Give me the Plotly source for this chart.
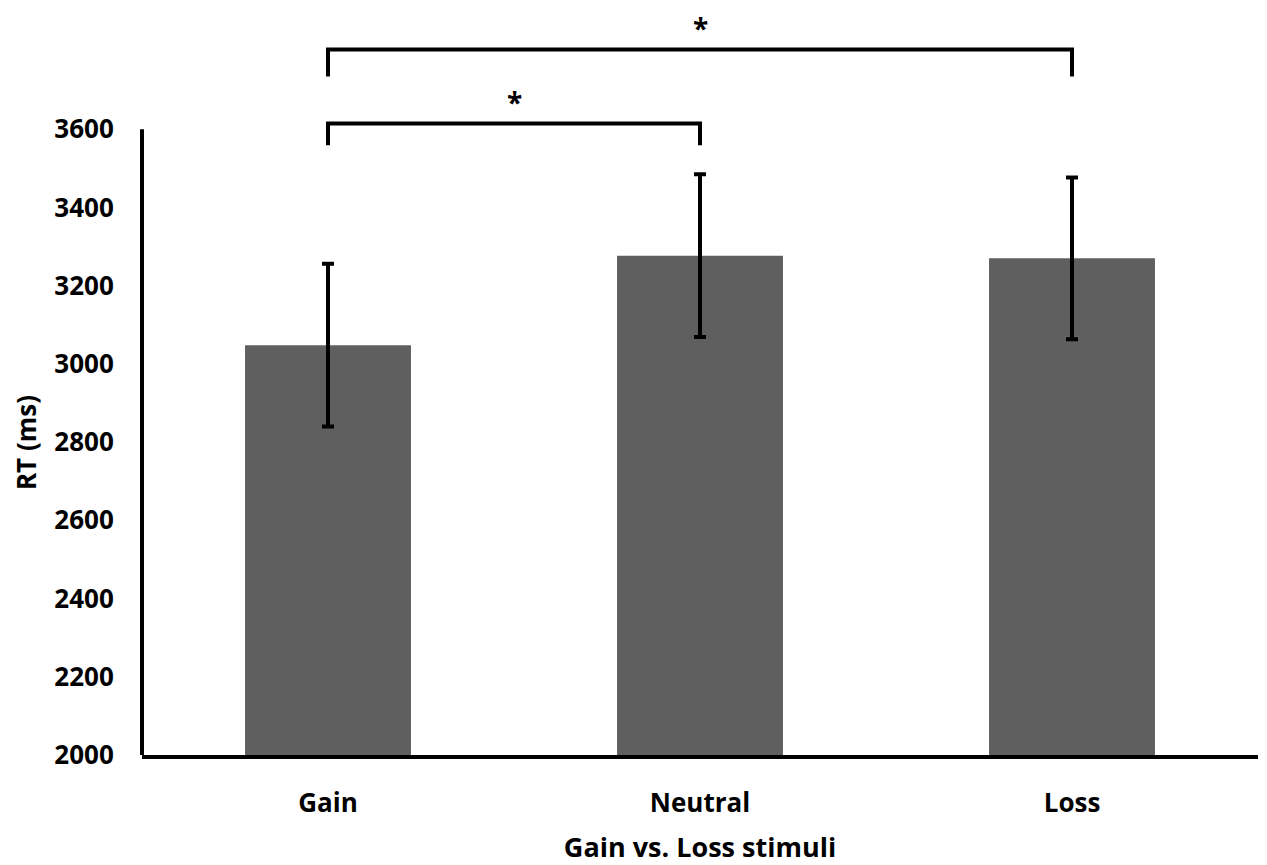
import plotly.graph_objects as go

categories = ["Gain", "Neutral", "Loss"]
rt_means = [3048, 3277, 3270]
rt_errors = [208, 208, 207]
y_ticks = [2000, 2200, 2400, 2600, 2800, 3000, 3200, 3400, 3600]

# significance brackets: (from category, to category, bar height, leg bottom)
brackets = [
    ("Gain", "Neutral", 3615, 3559),
    ("Gain", "Loss", 3804, 3735),
]
star_offset = 56

FONT = "Open Sans"

fig = go.Figure()
fig.add_trace(go.Bar(
    x=categories, y=rt_means,
    marker=dict(color="#5f5f5f", line=dict(width=0)),
    width=0.446,
    error_y=dict(type="data", array=rt_errors, visible=True,
                 color="black", thickness=4, width=6),
    showlegend=False,
))

idx = {c: i for i, c in enumerate(categories)}
for a, b, top, leg in brackets:
    fig.add_trace(go.Scatter(
        x=[idx[a], idx[a], idx[b], idx[b]],
        y=[leg, top, top, leg],
        mode="lines", line=dict(color="black", width=4),
        showlegend=False, hoverinfo="skip", xaxis="x2",
    ))
    fig.add_annotation(x=(idx[a] + idx[b]) / 2, y=top + star_offset,
                       xref="x2", yref="y", text="<b>*</b>", showarrow=False,
                       font=dict(family=FONT, size=28, color="black"))

# y axis line from 2000 to 3600 only
fig.add_shape(type="line", xref="paper", yref="y", x0=0, x1=0,
              y0=y_ticks[0], y1=y_ticks[-1], line=dict(color="black", width=4))

fig.add_annotation(xref="paper", yref="y", x=-0.104, xanchor="center",
                   y=(y_ticks[0] + y_ticks[-1]) / 2,
                   text="<b>RT (ms)</b>", textangle=-90, showarrow=False,
                   font=dict(family=FONT, size=26, color="black"))

fig.update_layout(
    width=1259, height=857,
    margin=dict(l=134, r=9, t=4, b=110),
    plot_bgcolor="white", paper_bgcolor="white",
    font=dict(family=FONT, color="black"),
    xaxis=dict(
        automargin=False,
        showline=True, linecolor="black", linewidth=4,
        tickfont=dict(family=FONT, size=26, color="black"),
        ticks="outside", ticklen=22, tickcolor="rgba(0,0,0,0)",
        tickprefix="<b>", ticksuffix="</b>",
        title=dict(text="<b>Gain vs. Loss stimuli</b>",
                   font=dict(family=FONT, size=27, color="black"), standoff=20),
        showgrid=False, zeroline=False,
    ),
    xaxis2=dict(overlaying="x", range=[-0.5, 2.5], visible=False),
    yaxis=dict(
        automargin=False,
        range=[2000, 3900], showline=False,
        tickvals=y_ticks, ticktext=[f"<b>{v}</b>" for v in y_ticks],
        tickfont=dict(family=FONT, size=26, color="black"),
        ticks="outside", ticklen=22, tickcolor="rgba(0,0,0,0)",
        showgrid=False, zeroline=False,
    ),
)

fig.write_html("out.html")
